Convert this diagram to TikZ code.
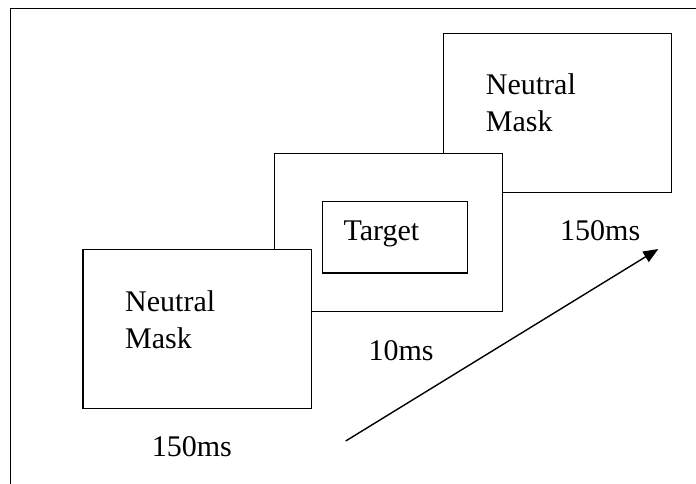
\documentclass[tikz,border=0pt]{standalone}
\usepackage{fontspec}
\setmainfont{Liberation Serif}
\usetikzlibrary{arrows.meta}
\begin{document}
\begin{tikzpicture}[x=1pt,y=-1pt,
  box/.style={draw=black,fill=white,line width=1.4pt,inner sep=0pt,anchor=north west},
  lbl/.style={inner sep=0pt,anchor=base west,font=\fontsize{30}{36.3}\selectfont,align=left},
  frame/.style={draw=black,line width=1.5pt}]
\useasboundingbox (0,0) rectangle (696,483);
% outer frame (open at right and bottom)
\coordinate (f1) at (10.5,490);
\coordinate (f2) at (10.5,8.3);
\coordinate (f3) at (700,8.3);
\draw[frame] (f1) -- (f2) -- (f3);
% boxes (back to front)
\node[box,minimum width=228pt,minimum height=159pt] (b3) at (442.7,32.7) {};
\node[box,minimum width=228pt,minimum height=158.3pt] (b2) at (274,152.7) {};
\node[box,minimum width=144.7pt,minimum height=71.6pt] (tg) at (322,200.7) {};
\node[box,minimum width=228.4pt,minimum height=159pt] (b1) at (82.3,248.7) {};
% labels (base anchor = baseline of the last line)
\node[lbl] (t3) at (485.7,131) {Neutral\\Mask};
\node[lbl] (tt) at (343.3,240) {Target};
\node[lbl] (t1) at (125,348) {Neutral\\Mask};
\node[lbl] (d3) at (560,240) {150ms};
\node[lbl] (d2) at (368.3,360) {10ms};
\node[lbl] (d1) at (151.7,456) {150ms};
% time arrow
\coordinate (a0) at (345.7,441);
\coordinate (a1) at (658.3,249);
\draw[line width=1.4pt,-{Triangle[length=15pt,width=12pt]}] (a0) -- (a1);
\end{tikzpicture}
\end{document}
